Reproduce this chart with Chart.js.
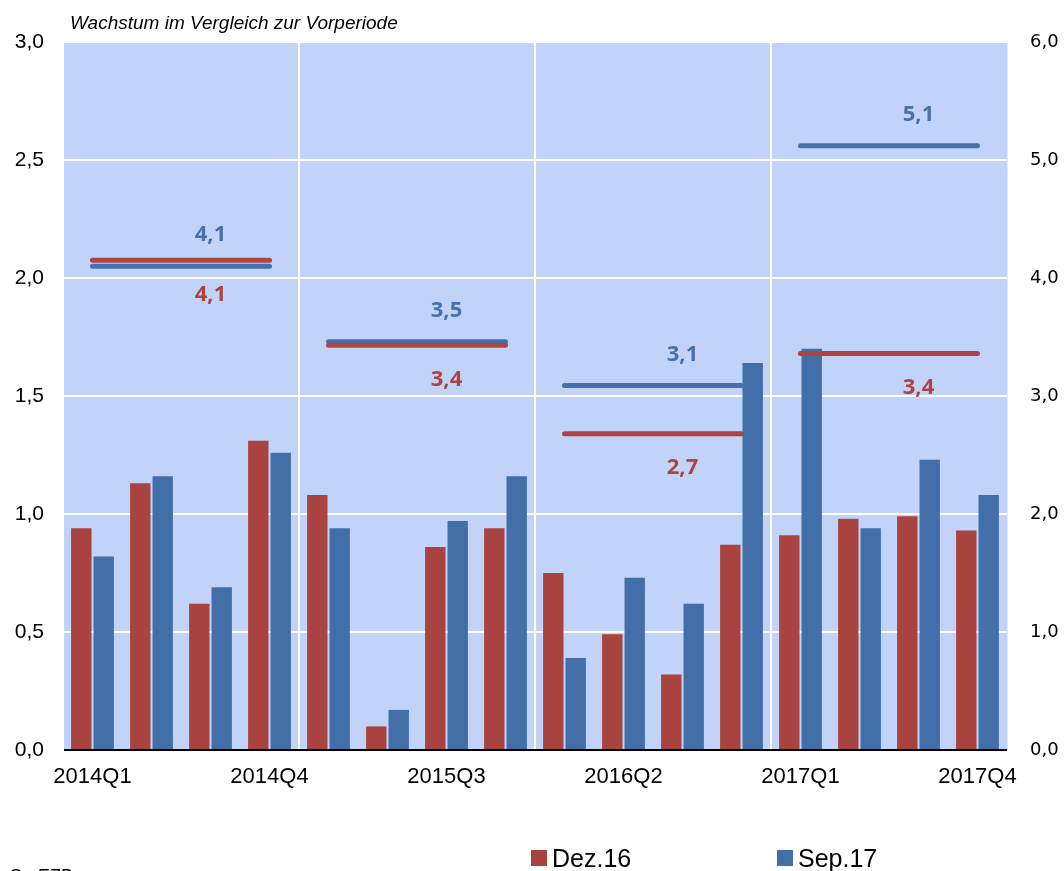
<!DOCTYPE html>
<html>
<head>
<meta charset="utf-8">
<script src="https://cdn.jsdelivr.net/npm/chart.js@4/dist/chart.umd.min.js"></script>
<style>
html,body{margin:0;padding:0;background:#fff;}
canvas{display:block;}
</style>
</head>
<body>
<canvas id="c" width="1064" height="871"></canvas>
<script>
const categories = ['2014Q1','2014Q2','2014Q3','2014Q4','2015Q1','2015Q2','2015Q3','2015Q4','2016Q1','2016Q2','2016Q3','2016Q4','2017Q1','2017Q2','2017Q3','2017Q4'];
const dez16 = [0.94,1.13,0.62,1.31,1.08,0.10,0.86,0.94,0.75,0.49,0.32,0.87,0.91,0.98,0.99,0.93];
const sep17 = [0.82,1.16,0.69,1.26,0.94,0.17,0.97,1.16,0.39,0.73,0.62,1.64,1.70,0.94,1.23,1.08];
const dez16Annual = [4.15,3.43,2.68,3.36];
const sep17Annual = [4.10,3.46,3.09,5.12];
const dez16AnnualLabels = ['4,1','3,4','2,7','3,4'];
const sep17AnnualLabels = ['4,1','3,5','3,1','5,1'];
const leftTicks = [0,0.5,1,1.5,2,2.5,3];
const rightTicks = [0,1,2,3,4,5,6];

const RED = '#A8433F';
const BLUE = '#426FA7';
const RED_LINE = '#AC4440';
const BLUE_LINE = '#4671AC';

const fmt = v => v.toFixed(1).replace('.', ',');
const annualSeries = arr => categories.map((c, i) => arr[Math.floor(i / 4)]);

const bgPlugin = {
  id: 'bg',
  beforeDraw(chart) {
    const {ctx, chartArea: a} = chart;
    ctx.save();
    ctx.fillStyle = '#C1D3F8';
    ctx.fillRect(a.left, a.top, a.right - a.left, a.bottom - a.top);
    ctx.restore();
  }
};

const annoPlugin = {
  id: 'anno',
  afterDraw(chart) {
    const {ctx, chartArea: a} = chart;
    const x = chart.scales.x, y2 = chart.scales.y2;
    ctx.save();
    ctx.font = 'bold 22px "Open Sans"';
    ctx.textAlign = 'center';
    ctx.textBaseline = 'middle';
    for (let k = 0; k < 4; k++) {
      const px = x.getPixelForValue(4 * k + 2);
      ctx.fillStyle = BLUE_LINE;
      ctx.fillText(sep17AnnualLabels[k], px, y2.getPixelForValue(sep17Annual[k]) - 31);
      ctx.fillStyle = RED_LINE;
      ctx.fillText(dez16AnnualLabels[k], px, y2.getPixelForValue(dez16Annual[k]) + 34);
    }
    // title
    ctx.fillStyle = '#000';
    ctx.textAlign = 'left';
    ctx.textBaseline = 'alphabetic';
    ctx.font = 'italic 19px "Liberation Sans"';
    ctx.fillText('Wachstum im Vergleich zur Vorperiode', a.left + 7, 29);
    // legend
    ctx.font = '25px "Liberation Sans"';
    const items = [{t: chart.data.datasets[0].label, c: RED, bx: 531}, {t: chart.data.datasets[1].label, c: BLUE, bx: 777}];
    items.forEach(it => {
      ctx.fillStyle = it.c;
      ctx.fillRect(it.bx, 850, 16, 16);
      ctx.fillStyle = '#000';
      ctx.fillText(it.t, it.bx + 21, 867);
    });
    // source (clipped)
    ctx.font = '18px "Liberation Sans"';
    ctx.fillText('Q.: EZB', 9, 882);
    ctx.restore();
  }
};

new Chart(document.getElementById('c'), {
  type: 'bar',
  data: {
    labels: categories,
    datasets: [
      {label: 'Dez.16', data: dez16, backgroundColor: RED, yAxisID: 'y', order: 2,
       categoryPercentage: 0.76, barPercentage: 0.91},
      {label: 'Sep.17', data: sep17, backgroundColor: BLUE, yAxisID: 'y', order: 2,
       categoryPercentage: 0.76, barPercentage: 0.91},
      {type: 'line', label: 'Dez.16 Jahr', data: annualSeries(dez16Annual), yAxisID: 'y2', order: 0,
       borderColor: RED_LINE, borderWidth: 5, borderCapStyle: 'round', pointRadius: 0, fill: false,
       segment: {borderColor: c => (c.p0DataIndex % 4 === 3 ? 'rgba(0,0,0,0)' : RED_LINE)}},
      {type: 'line', label: 'Sep.17 Jahr', data: annualSeries(sep17Annual), yAxisID: 'y2', order: 1,
       borderColor: BLUE_LINE, borderWidth: 5, borderCapStyle: 'round', pointRadius: 0, fill: false,
       segment: {borderColor: c => (c.p0DataIndex % 4 === 3 ? 'rgba(0,0,0,0)' : BLUE_LINE)}}
    ]
  },
  options: {
    responsive: false,
    animation: false,
    devicePixelRatio: 1,
    layout: {padding: {top: 42, left: 0, right: 0, bottom: 0}},
    plugins: {legend: {display: false}, tooltip: {enabled: false}, title: {display: false}},
    scales: {
      x: {
        offset: true,
        grid: {offset: true, drawTicks: false, lineWidth: 2,
               color: c => (c.index % 4 === 0 ? '#FFFFFF' : 'rgba(0,0,0,0)')},
        border: {color: '#000', width: 2},
        ticks: {autoSkip: false, maxRotation: 0, padding: 14, color: '#000',
                font: {family: '"Liberation Sans"', size: 22},
                callback: (v, i) => (i % 3 === 0 ? categories[i] : '')},
        afterFit: s => { s.height = 121; }
      },
      y: {
        position: 'left', min: 0, max: 3,
        afterBuildTicks: s => { s.ticks = leftTicks.map(v => ({value: v})); },
        grid: {color: '#FFFFFF', lineWidth: 2, drawTicks: false},
        border: {color: '#FFFFFF', width: 2},
        ticks: {padding: 19, color: '#000', font: {family: '"Liberation Sans"', size: 21},
                callback: v => fmt(v)},
        afterFit: s => { s.width = 63; }
      },
      y2: {
        position: 'right', min: 0, max: 6,
        afterBuildTicks: s => { s.ticks = rightTicks.map(v => ({value: v})); },
        grid: {drawOnChartArea: false, drawTicks: false},
        border: {color: '#DDE6FA', width: 1},
        ticks: {padding: 23, color: '#000', font: {family: '"DejaVu Sans"', size: 18},
                callback: v => fmt(v)},
        afterFit: s => { s.width = 57; }
      }
    }
  },
  plugins: [bgPlugin, annoPlugin]
});
</script>
</body>
</html>
